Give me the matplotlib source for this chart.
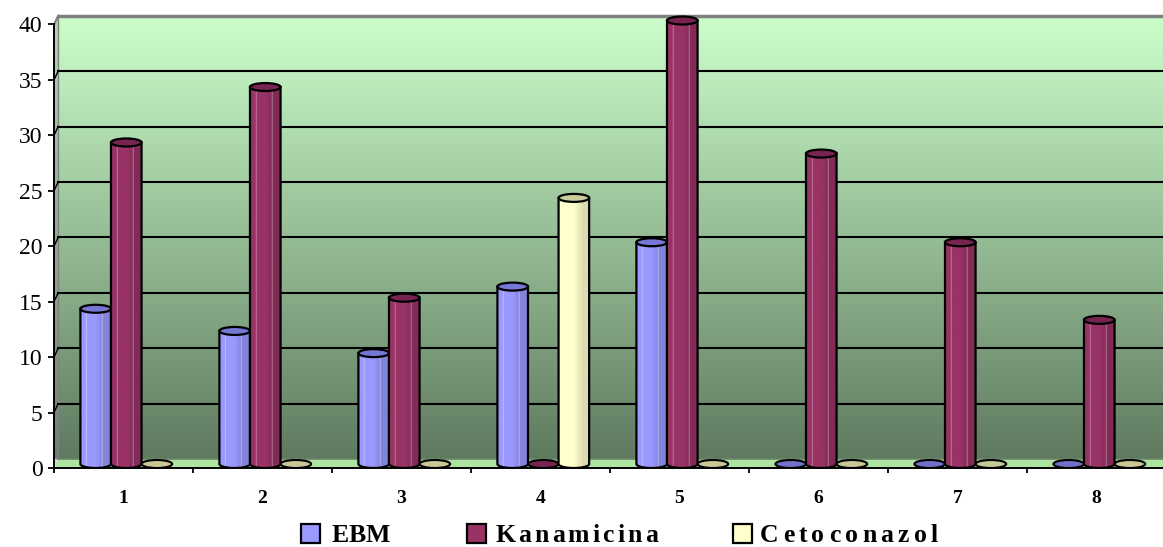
import numpy as np
import matplotlib
matplotlib.use("Agg")
import matplotlib.pyplot as plt
from matplotlib.patches import Ellipse, PathPatch, Polygon, Rectangle
from matplotlib.path import Path
from matplotlib.font_manager import FontProperties
from matplotlib.ticker import FixedLocator, NullFormatter

# ---- data -------------------------------------------------------------
categories = ["1", "2", "3", "4", "5", "6", "7", "8"]
series_names = ["EBM", "Kanamicina", "Cetoconazol"]
ebm = [14, 12, 10, 16, 20, 0, 0, 0]
kanamicina = [29, 34, 15, 0, 40, 28, 20, 13]
cetoconazol = [0, 0, 0, 24, 0, 0, 0, 0]
y_ticks = [0, 5, 10, 15, 20, 25, 30, 35, 40]

# ---- styling ----------------------------------------------------------
body_colors = [(153, 153, 255), (153, 51, 102), (255, 255, 204)]
cap_colors = [(118, 118, 212), (120, 36, 80), (204, 204, 158)]
disc_colors = [(112, 112, 200), (120, 36, 80), (200, 200, 150)]
offsets = [-0.20, 0.02, 0.24]
bar_w = 0.22
depth_x, depth_y = 0.03, 0.8
cap_h = 0.72
base_c = 0.36

W, H = 1163, 547
px_per_unit = (468 - 24.5) / 40.0

fig = plt.figure(figsize=(W / 100, H / 100), dpi=100)
fig.patch.set_facecolor("white")
ax = fig.add_axes([54 / W, 79 / H, 1112 / W, 41 * px_per_unit / H])
ax.set_xlim(0.5, 8.5)
ax.set_ylim(0, 41)
ax.patch.set_visible(False)


def c01(rgb):
    return tuple(v / 255 for v in rgb)


# back wall with vertical gradient
top_col = np.array([204, 255, 204]) / 255
bot_col = np.array([96, 122, 96]) / 255
g = np.linspace(0, 1, 256)[:, None, None]
grad = (top_col[None, None, :] * (1 - g) + bot_col[None, None, :] * g)
grad = np.repeat(grad, 2, axis=1)
wall_img = ax.imshow(grad, extent=(0.5, 8.7, depth_y, 40 + depth_y),
                     aspect="auto", origin="upper", zorder=0,
                     interpolation="bilinear")
wall_clip = Polygon([(0.5, 0), (0.5, 40), (0.5 + depth_x, 40 + depth_y),
                     (8.7, 40 + depth_y), (8.7, depth_y), (0.5 + depth_x, depth_y)],
                    closed=True, transform=ax.transData, facecolor="none",
                    edgecolor="none")
ax.add_patch(wall_clip)
wall_img.set_clip_path(wall_clip)

# side wall shading
ax.add_patch(Polygon([(0.5, 0), (0.5, 40), (0.5 + depth_x, 40 + depth_y),
                      (0.5 + depth_x, depth_y)], closed=True,
                     facecolor=(0.55, 0.55, 0.55), alpha=0.35,
                     edgecolor="none", zorder=1))
ax.plot([0.5 + depth_x, 0.5 + depth_x], [depth_y, 40 + depth_y],
        color=(0.5, 0.5, 0.5), lw=1.0, zorder=1.5)

# floor
ax.add_patch(Polygon([(0.5, 0), (8.7, 0), (8.7, depth_y),
                      (0.5 + depth_x, depth_y)], closed=True,
                     facecolor=c01((172, 228, 160)), edgecolor="none",
                     zorder=1))
ax.plot([0.5 + depth_x, 8.7], [depth_y, depth_y], color=(0.42, 0.52, 0.42),
        lw=1.2, zorder=1.6)

# gridlines on the back wall
for v in y_ticks[1:-1]:
    ax.plot([0.5 + depth_x, 8.7], [v + depth_y, v + depth_y], color="black",
            lw=1.5, zorder=2)
    ax.plot([0.5, 0.5 + depth_x], [v, v + depth_y], color="black", lw=1.0,
            zorder=2)
ax.plot([0.5 + depth_x, 8.7], [40 + depth_y, 40 + depth_y],
        color=(0.5, 0.5, 0.5), lw=2.5, zorder=2, solid_capstyle="butt")
ax.plot([0.5, 0.5 + depth_x], [40, 40 + depth_y], color=(0.5, 0.5, 0.5),
        lw=1.5, zorder=2)


def shade_strip(rgb, n=64):
    base = np.array(rgb) / 255
    t = np.linspace(0, 1, n)
    f = np.where(t < 0.5, 1.0, np.where(t > 0.75, 0.86, 1.0 - (t - 0.5) / 0.25 * 0.14))
    cols = base[None, :] * f[:, None]
    for hl in (0.2, 0.72):
        m = np.abs(t - hl) < 0.012
        cols[m] = cols[m] * 0.65 + 0.35
    return np.clip(cols, 0, 1)[None, :, :]


def cylinder(xc, value, k, z):
    x0, x1 = xc - bar_w / 2, xc + bar_w / 2
    if value <= 0:
        ax.add_patch(Ellipse((xc, base_c), bar_w, cap_h,
                             facecolor=c01(disc_colors[k]), edgecolor="black",
                             lw=1.5, zorder=z))
        return
    top = value + base_c
    th = np.linspace(np.pi, 2 * np.pi, 40)
    verts = [(x0, top), (x0, base_c)]
    verts += list(zip(xc + bar_w / 2 * np.cos(th), base_c + cap_h / 2 * np.sin(th)))
    verts += [(x1, base_c), (x1, top), (x0, top)]
    path = Path(verts, [Path.MOVETO] + [Path.LINETO] * (len(verts) - 2) + [Path.CLOSEPOLY])
    clip = PathPatch(path, facecolor="none", edgecolor="none", zorder=z)
    ax.add_patch(clip)
    img = ax.imshow(shade_strip(body_colors[k]),
                    extent=(x0, x1, base_c - cap_h / 2, top),
                    aspect="auto", zorder=z, interpolation="bilinear")
    img.set_clip_path(clip)
    ax.add_patch(PathPatch(path, facecolor="none", edgecolor="black", lw=1.6,
                           zorder=z + 0.1))
    ax.add_patch(Ellipse((xc, top), bar_w, cap_h, facecolor=c01(cap_colors[k]),
                         edgecolor="black", lw=1.6, zorder=z + 0.2))


x = np.arange(1, len(categories) + 1)
all_series = [ebm, kanamicina, cetoconazol]
z = 3
for i, xi in enumerate(x):
    for k, vals in enumerate(all_series):
        cylinder(xi + offsets[k], vals[i], k, z)
        z += 1

ax.set_xlim(0.5, 8.5)
ax.set_ylim(0, 41)

# axes, ticks and labels
for side in ("top", "right"):
    ax.spines[side].set_visible(False)
ax.spines["left"].set_bounds(0, 40)
ax.spines["left"].set_linewidth(1.4)
ax.spines["bottom"].set_linewidth(1.4)
ax.spines["left"].set_zorder(200)
ax.spines["bottom"].set_zorder(200)

serif = ["Liberation Serif", "DejaVu Serif"]
ax.set_yticks(y_ticks)
ax.set_yticklabels([str(v) for v in y_ticks], fontfamily=serif, fontsize=17)
ax.tick_params(axis="y", direction="out", length=4.3, width=1.3, pad=4.0)

ax.xaxis.set_major_locator(FixedLocator(np.arange(0.5, 8.6, 1.0)))
ax.xaxis.set_major_formatter(NullFormatter())
ax.xaxis.set_minor_locator(FixedLocator(x))
ax.set_xticklabels(categories, minor=True, fontfamily=serif, fontsize=14,
                   fontweight="bold")
ax.tick_params(axis="x", which="major", direction="out", length=3.8, width=1.3)
ax.tick_params(axis="x", which="minor", length=0, pad=15.5)

# legend with letter-spaced entries
renderer = fig.canvas.get_renderer()
fp = FontProperties(family=serif, weight="bold", size=18.5)


def text_w(s):
    return renderer.get_text_width_height_descent(s, fp, ismath=False)[0] if s else 0.0


legend_items = [
    (301, 332, 390, 0),
    (467, 495, 658, 1),
    (733, 760, 938, 2),
]
y_leg = 533
for (sq_x, tx0, tx1, k) in legend_items:
    fig.patches.append(Rectangle((sq_x / W, 1 - (y_leg + 9.5) / H), 19 / W, 19 / H,
                                 transform=fig.transFigure, figure=fig,
                                 facecolor=c01(body_colors[k]), edgecolor="black",
                                 lw=1.6))
    name = series_names[k]
    gap = ((tx1 - tx0) - text_w(name)) / (len(name) - 1)
    for j, ch in enumerate(name):
        left = text_w(name[:j + 1]) - text_w(ch)
        fig.text((tx0 + left + j * gap) / W, 1 - y_leg / H, ch,
                 fontproperties=fp, ha="left", va="center_baseline", color="black")

fig.savefig("out.png", dpi=100, facecolor="white")
